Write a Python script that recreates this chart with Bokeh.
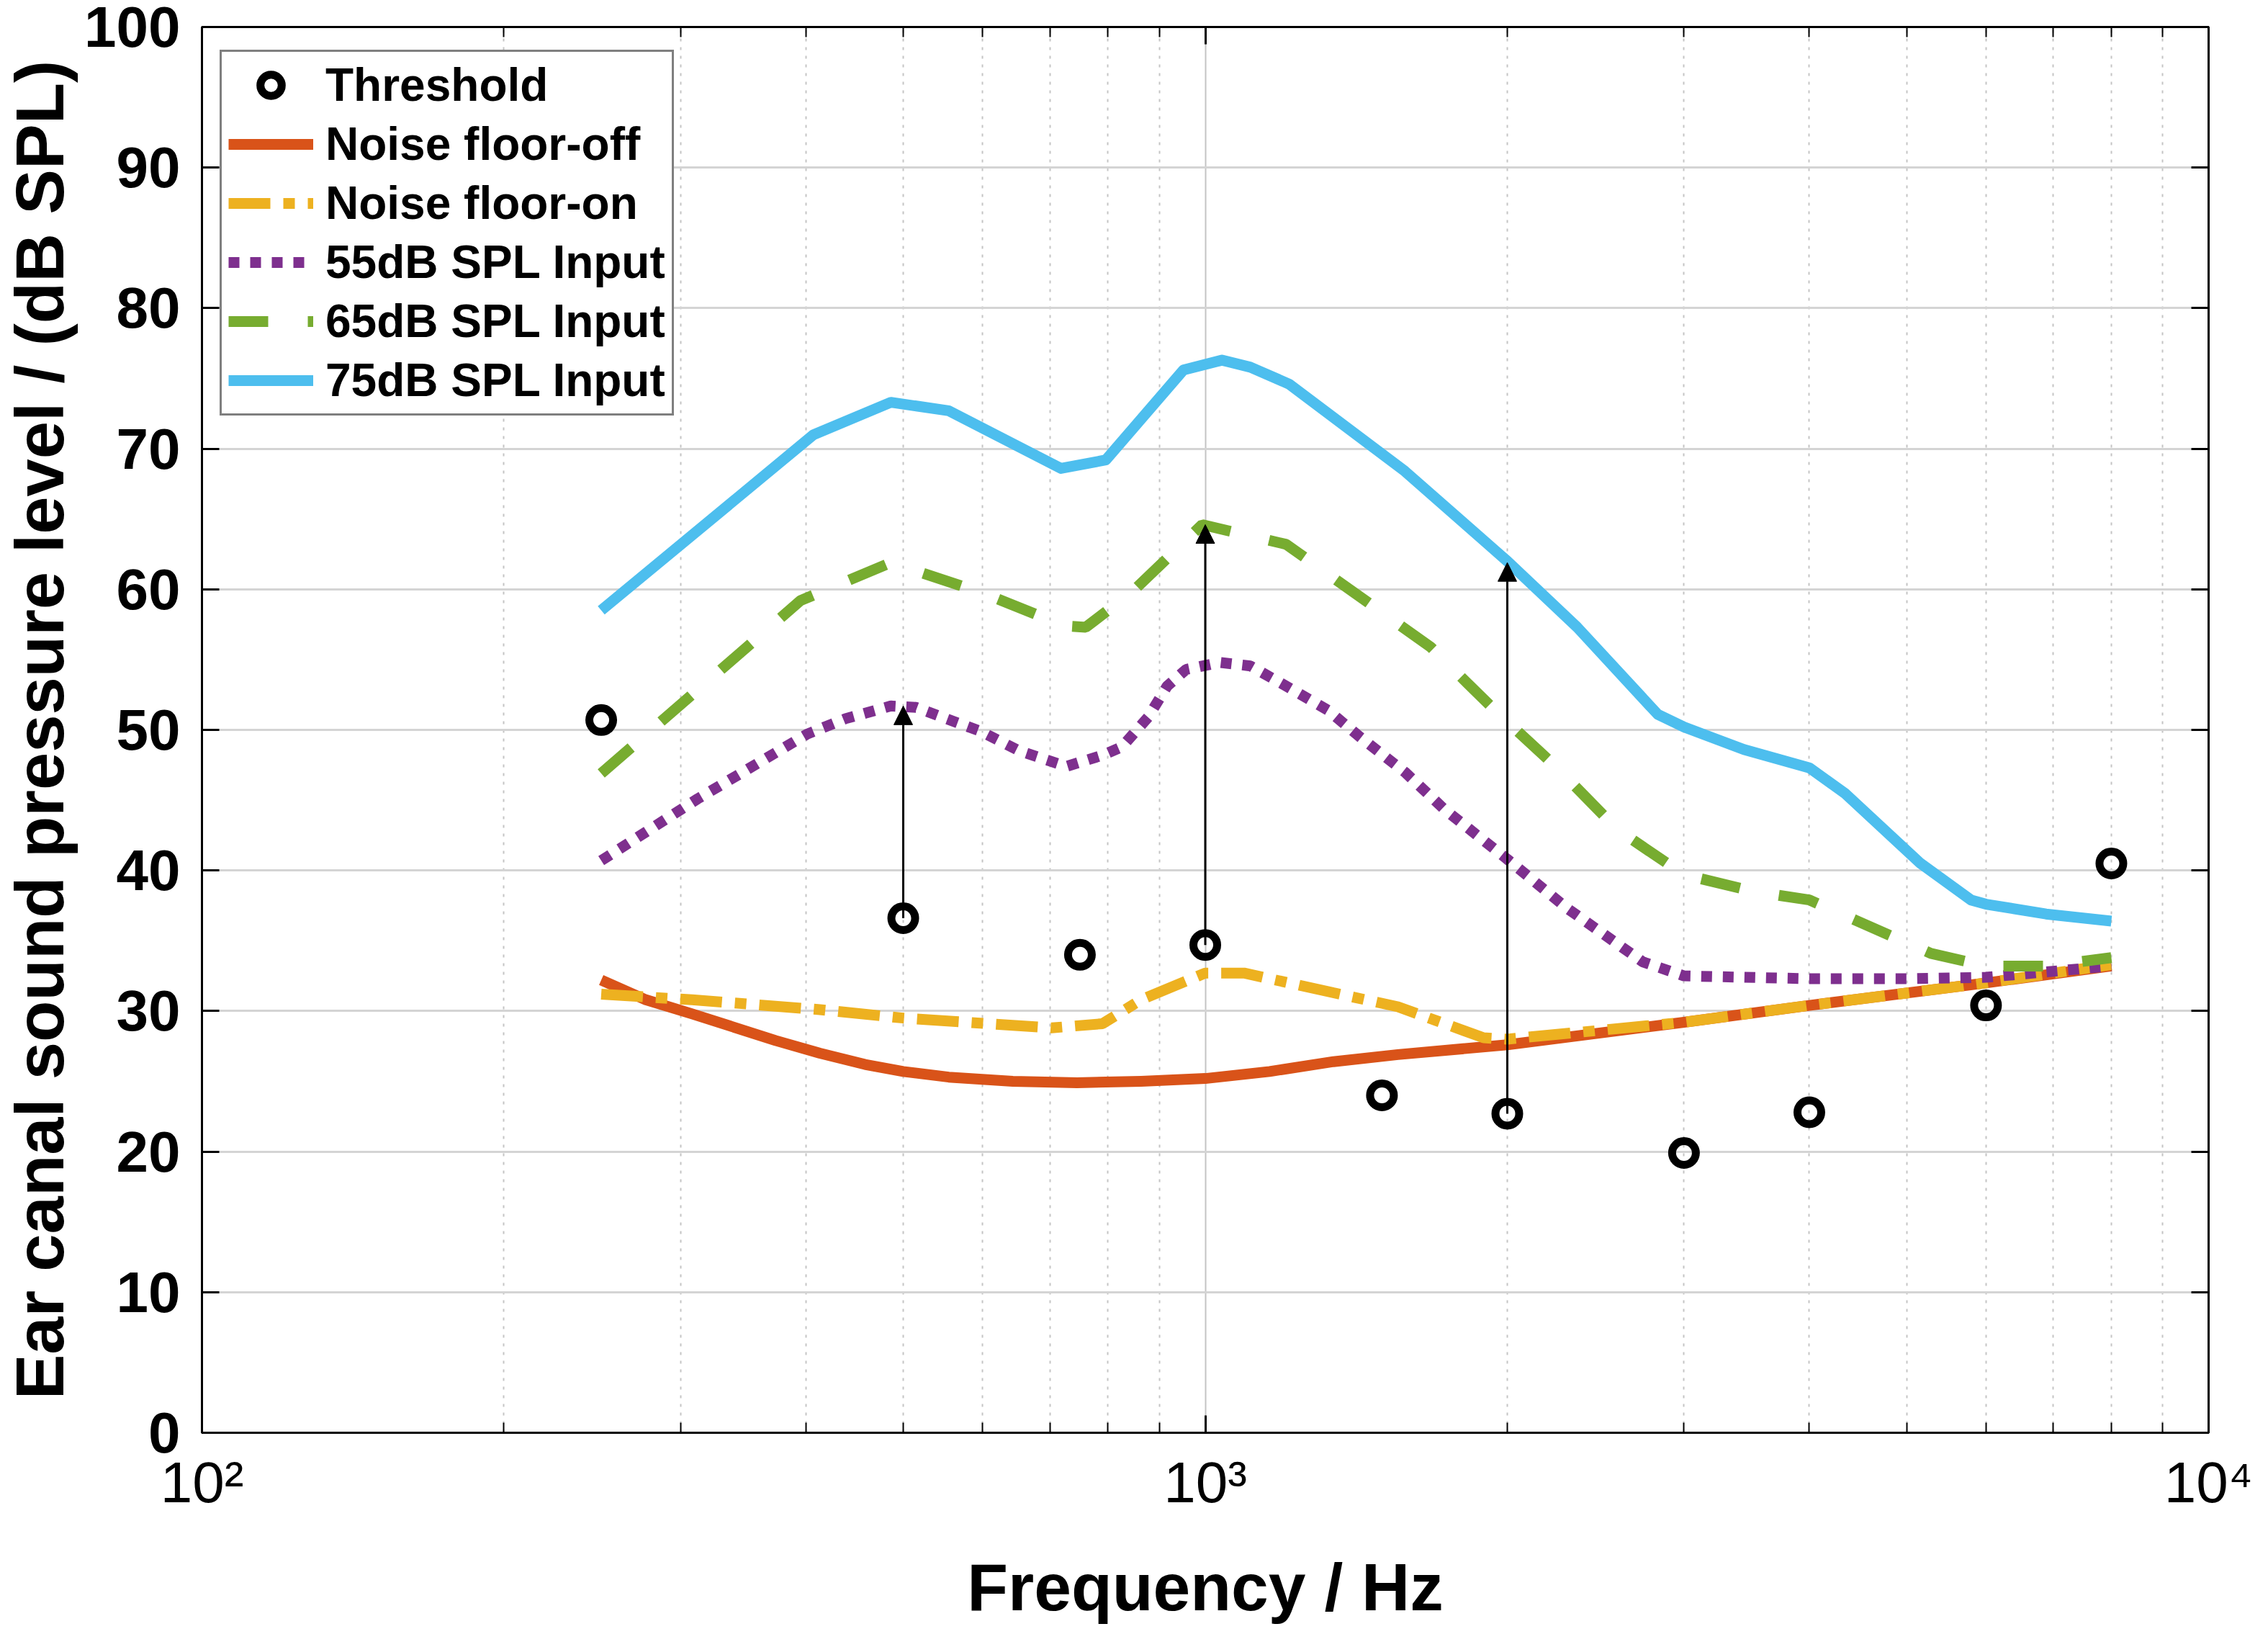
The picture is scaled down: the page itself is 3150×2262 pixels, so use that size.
from bokeh.plotting import figure
from bokeh.models import (FixedTicker, LinearAxis, LogAxis, Range1d, Legend, LegendItem,
                          Arrow, NormalHead, ColumnDataSource, CustomJSTickFormatter)
from bokeh.embed import file_html
from bokeh.resources import INLINE

# ---------------- data ----------------
thr_f = [250, 500, 750, 1000, 1500, 2000, 3000, 4000, 6000, 8000]
thr_db = [50.7, 36.6, 34.0, 34.7, 24.0, 22.7, 19.9, 22.8, 30.4, 40.5]

off_f = [250, 277, 308, 373, 413, 458, 500, 555, 643, 745, 863, 1000, 1159, 1342, 1556,
         2000, 3000, 4000, 6000, 8000]
off_db = [32.2, 30.8, 29.8, 27.9, 27.0, 26.2, 25.7, 25.3, 25.0, 24.9, 25.0, 25.2, 25.7, 26.4, 26.9,
          27.6, 29.2, 30.4, 32.0, 33.2]

on_f = [250, 308, 413, 500, 703, 790, 863, 1000, 1093, 1342, 1556, 1894, 2000, 3000, 4000, 6000, 8000]
on_db = [31.2, 30.8, 30.1, 29.5, 28.8, 29.1, 30.8, 32.7, 32.7, 31.3, 30.3, 28.1, 28.0, 29.2, 30.4, 32.0, 33.3]

in55_f = [250, 312, 401, 438, 486, 515, 547, 597, 653, 727, 790, 826, 877, 916, 957, 1034, 1109,
          1212, 1325, 1426, 1581, 1728, 2000, 2295, 2729, 3000, 4000, 5000, 6000, 8000]
in55_db = [40.7, 45.1, 49.7, 50.8, 51.7, 51.6, 50.9, 49.9, 48.5, 47.4, 48.2, 48.8, 50.9, 53.1, 54.3, 54.8, 54.55,
           53.0, 51.4, 49.5, 47.0, 44.4, 40.8, 37.3, 33.5, 32.5, 32.3, 32.3, 32.4, 33.2]

in65_f = [250, 395, 486, 602, 724, 760, 845, 993, 1204, 1677, 1944, 2242, 2576, 3000, 3524, 4000, 5287, 6000, 6900, 8000]
in65_db = [46.9, 59.2, 61.9, 59.7, 57.4, 57.3, 59.8, 64.6, 63.2, 55.9, 51.4, 47.3, 42.9, 39.7, 38.5, 37.9, 34.1, 33.2, 33.2, 33.8]

in75_f = [250, 407, 486, 555, 718, 796, 951, 1039, 1109, 1212, 1581, 2000, 2348, 2825, 3000, 3442, 4000, 4338, 5163, 5796, 6000, 6887, 8000]
in75_db = [58.5, 71.0, 73.3, 72.7, 68.6, 69.2, 75.6, 76.3, 75.8, 74.6, 68.4, 62.0, 57.3, 51.1, 50.2, 48.6, 47.3, 45.5, 40.5, 37.9, 37.6, 36.9, 36.4]

arrow_f = [500, 1000, 2000]
arrow_from = [36.6, 34.7, 22.7]
arrow_to = [51.7, 64.6, 61.9]

legend_labels = ["Threshold", "Noise floor-off", "Noise floor-on",
                 "55dB SPL Input", "65dB SPL Input", "75dB SPL Input"]

x_major = [100, 1000, 10000]
x_major_labels = ["10\u00b2", "10\u00b3", "10\u2074"]
x_minor = [200, 300, 400, 500, 600, 700, 800, 900,
           2000, 3000, 4000, 5000, 6000, 7000, 8000, 9000]
y_major = [0, 10, 20, 30, 40, 50, 60, 70, 80, 90, 100]

# ---------------- figure ----------------
FONT = "Liberation Sans"
FRAME_H = 1955
p = figure(width=3142, height=2258, x_axis_type="log",
           x_range=Range1d(100, 10000), y_range=Range1d(0, 100),
           output_backend="svg", toolbar_location=None,
           min_border_left=278, min_border_right=75,
           min_border_top=37, min_border_bottom=266)
p.background_fill_color = "white"
p.border_fill_color = "white"
p.outline_line_color = "black"
p.outline_line_width = 3

# grids
p.ygrid.grid_line_color = "#d4d4d4"
p.ygrid.grid_line_width = 3
p.xgrid.grid_line_color = "#c4c4c4"
p.xgrid.grid_line_width = 2
p.xgrid.minor_grid_line_color = "#c4c4c4"
p.xgrid.minor_grid_line_width = 2
p.xgrid.minor_grid_line_dash = "4 8"

# bottom axis
xa = p.below[0]
xa.ticker = FixedTicker(ticks=x_major, minor_ticks=x_minor)
xa.major_label_overrides = {t: s for t, s in zip(x_major, x_major_labels)}
xa.major_label_text_font = FONT
xa.major_label_text_font_size = "80px"
xa.major_label_text_font_style = "normal"
xa.major_label_text_color = "black"
xa.major_label_standoff = 24
xa.axis_label = "Frequency / Hz"
xa.axis_label_text_font = FONT
xa.axis_label_text_font_size = "93px"
xa.axis_label_text_font_style = "bold"
xa.axis_label_text_color = "black"
xa.axis_label_standoff = 46
xa.axis_line_color = "black"
xa.axis_line_width = 3
xa.major_tick_in = 24
xa.major_tick_out = 0
xa.minor_tick_in = 14
xa.minor_tick_out = 0
xa.major_tick_line_width = 3
xa.minor_tick_line_width = 2
xa.major_tick_line_color = "black"
xa.minor_tick_line_color = "black"

# left axis
ya = p.left[0]
ya.ticker = FixedTicker(ticks=y_major)
ya.major_label_text_font = FONT
ya.major_label_text_font_size = "80px"
ya.major_label_text_font_style = "bold"
ya.major_label_text_color = "black"
ya.major_label_standoff = 30
ya.axis_label = "Ear canal sound pressure level / (dB SPL)"
ya.axis_label_text_font = FONT
ya.axis_label_text_font_size = "94px"
ya.axis_label_text_font_style = "bold"
ya.axis_label_text_color = "black"
ya.axis_label_standoff = 6
ya.axis_line_color = "black"
ya.axis_line_width = 3
ya.major_tick_in = 24
ya.major_tick_out = 0
ya.minor_tick_line_color = None
ya.major_tick_line_width = 3
ya.major_tick_line_color = "black"

blank = CustomJSTickFormatter(code="return '';")

# right axis (ticks only)
ra = LinearAxis(ticker=FixedTicker(ticks=y_major), formatter=blank)
ra.major_tick_in = 24
ra.major_tick_out = 0
ra.minor_tick_line_color = None
ra.major_tick_line_width = 3
ra.axis_line_width = 3
ra.major_label_standoff = 0
p.add_layout(ra, "right")

# top axis (ticks only)
ta = LogAxis(ticker=FixedTicker(ticks=x_major, minor_ticks=x_minor), formatter=blank)
ta.major_tick_in = 24
ta.major_tick_out = 0
ta.minor_tick_in = 14
ta.minor_tick_out = 0
ta.major_tick_line_width = 3
ta.minor_tick_line_width = 2
ta.axis_line_width = 3
ta.major_label_standoff = 0
p.add_layout(ta, "above")

# ---------------- series ----------------
LW = 15
r_off = p.line(off_f, off_db, line_color="#D95319", line_width=LW, line_join="round")
r_on = p.line(on_f, on_db, line_color="#EDB120", line_width=LW, line_dash="58 18 16 18")
r55 = p.line(in55_f, in55_db, line_color="#7E2F8E", line_width=LW, line_dash="15 15")
r65 = p.line(in65_f, in65_db, line_color="#77AC30", line_width=LW, line_dash="55 55")
r75 = p.line(in75_f, in75_db, line_color="#4DBEEE", line_width=LW, line_join="round")

arr_src = ColumnDataSource(dict(x0=arrow_f, y0=arrow_from, x1=arrow_f, y1=arrow_to))
p.add_layout(Arrow(end=NormalHead(size=26, fill_color="black", line_color="black", line_width=1),
                   x_start="x0", y_start="y0", x_end="x1", y_end="y1",
                   source=arr_src, line_color="black", line_width=3))

r_thr = p.scatter(thr_f, thr_db, marker="circle", size=33, fill_color=None,
                  line_color="black", line_width=11)

LEG_PAD, LEG_H, LEG_SP = 9, 74, 8
leg_height = 2 * LEG_PAD + 6 * LEG_H + 5 * LEG_SP + 6
legend = Legend(items=[LegendItem(label=lbl, renderers=[r]) for lbl, r in
                       zip(legend_labels, [r_thr, r_off, r_on, r55, r65, r75])],
                location=(25, FRAME_H - 35 - leg_height))
legend.margin = 0
legend.padding = LEG_PAD
legend.spacing = LEG_SP
legend.glyph_width = 118
legend.glyph_height = LEG_H
legend.label_height = LEG_H
legend.label_standoff = 17
legend.label_text_font = FONT
legend.label_text_font_size = "64px"
legend.label_text_font_style = "bold"
legend.label_text_color = "black"
legend.border_line_color = "black"
legend.border_line_width = 3
legend.background_fill_color = "white"
legend.background_fill_alpha = 1.0
p.add_layout(legend, "center")

open("out.html", "w").write(file_html(p, INLINE))
